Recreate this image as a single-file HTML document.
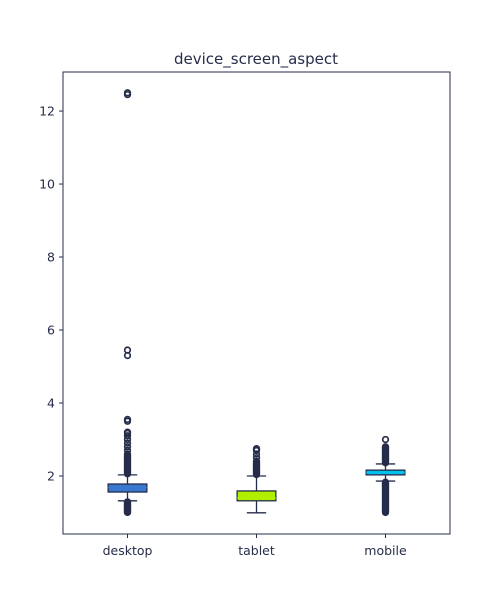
<!DOCTYPE html>
<html><head><meta charset="utf-8"><style>
html,body{margin:0;padding:0;background:#fff;}
svg{display:block;font-family:"DejaVu Sans","Liberation Sans",sans-serif;}
</style></head><body>
<svg id="chart" width="500" height="600"></svg>
<script>
const categories = ["desktop","tablet","mobile"];
const q1 = [1.56, 1.32, 2.03];
const q3 = [1.78, 1.59, 2.16];
const medians = [1.68, 1.40, 2.10];
const whiskLo = [1.32, 0.99, 1.86];
const whiskHi = [2.03, 2.00, 2.33];
const outliersDesktop = [1.0,1.01,1.02,1.04,1.05,1.07,1.08,1.1,1.12,1.13,1.15,1.16,1.18,1.2,1.22,1.23,1.25,1.26,1.28,1.29,2.06,2.08,2.1,2.12,2.14,2.16,2.18,2.2,2.22,2.24,2.26,2.28,2.3,2.32,2.34,2.36,2.38,2.4,2.42,2.44,2.46,2.48,2.5,2.53,2.55,2.58,2.6,2.7,2.8,2.9,3.0,3.1,3.17,3.2,3.5,3.55,5.3,5.45,12.45,12.5];
const outliersTablet = [2.04,2.06,2.08,2.1,2.12,2.14,2.16,2.18,2.2,2.22,2.24,2.26,2.28,2.3,2.32,2.34,2.36,2.38,2.4,2.5,2.6,2.7,2.72,2.75];
const outliersMobile = [1.0,1.02,1.04,1.06,1.08,1.1,1.12,1.14,1.16,1.18,1.2,1.22,1.24,1.26,1.28,1.3,1.32,1.34,1.36,1.38,1.4,1.42,1.44,1.46,1.48,1.5,1.52,1.54,1.56,1.58,1.6,1.62,1.64,1.66,1.68,1.7,1.72,1.74,1.76,1.78,1.8,1.83,2.36,2.38,2.4,2.42,2.44,2.46,2.48,2.5,2.52,2.54,2.56,2.58,2.6,2.62,2.64,2.66,2.68,2.7,2.72,2.74,2.76,2.78,2.8,3.0];
const yTicks = [2,4,6,8,10,12];
const colors = ["#3a78d0","#b0ef00","#00c0f0"];
const outliers = [outliersDesktop, outliersTablet, outliersMobile];

const NS="http://www.w3.org/2000/svg";
const svg=document.getElementById('chart');
const L=63,R=450,T=72,B=534, ymin=0.41, ymax=13.07;
const y=v=>B-(v-ymin)/(ymax-ymin)*(B-T);
const x=i=>L+(i+0.5)/3*(R-L);
const dark="#262d4a";
function el(tag,attrs,parent){const e=document.createElementNS(NS,tag);for(const k in attrs)e.setAttribute(k,attrs[k]);(parent||svg).appendChild(e);return e;}

const title=el('text',{x:256,y:64,'text-anchor':'middle','font-size':15,fill:dark});


title.textContent='device_screen_aspect';

yTicks.forEach(t=>{
  const ln=el('line',{x1:L-4,x2:L,y1:y(t),y2:y(t),stroke:dark});
  
  
  const tx=el('text',{x:L-8,y:y(t)+4.5,'text-anchor':'end','font-size':12.5,fill:dark});
  
  
  tx.textContent=t;
});

const bw=(R-L)/3*0.3, cw=bw*0.5;
categories.forEach((c,i)=>{
  const cx=x(i);
  const g=el('g',{});
  
  
  el('line',{x1:cx,x2:cx,y1:y(whiskLo[i]),y2:y(q1[i]),stroke:dark,'stroke-width':1.3},g);
  el('line',{x1:cx,x2:cx,y1:y(whiskHi[i]),y2:y(q3[i]),stroke:dark,'stroke-width':1.3},g);
  el('line',{x1:cx-cw/2,x2:cx+cw/2,y1:y(whiskLo[i]),y2:y(whiskLo[i]),stroke:dark,'stroke-width':1.3},g);
  el('line',{x1:cx-cw/2,x2:cx+cw/2,y1:y(whiskHi[i]),y2:y(whiskHi[i]),stroke:dark,'stroke-width':1.3},g);
  el('rect',{x:cx-bw/2,y:y(q3[i]),width:bw,height:y(q1[i])-y(q3[i]),fill:colors[i],stroke:dark,'stroke-width':1.3},g);
  el('line',{x1:cx-bw/2,x2:cx+bw/2,y1:y(medians[i]),y2:y(medians[i]),stroke:colors[i],'stroke-width':1.3},g);
  outliers[i].forEach(v=>{
    const o=el('circle',{cx:cx,cy:y(v),r:2.8,fill:'none',stroke:dark,'stroke-width':1.7},g);
    
    
  });
  const tk=el('line',{x1:cx,x2:cx,y1:B,y2:B+4,stroke:dark});
  
  
  const tx=el('text',{x:cx,y:B+21,'text-anchor':'middle','font-size':12.5,fill:dark});
  
  
  tx.textContent=c;
});

const frame=el('rect',{x:L,y:T,width:R-L,height:B-T,fill:'none',stroke:dark,'stroke-width':1});


</script>
</body></html>
